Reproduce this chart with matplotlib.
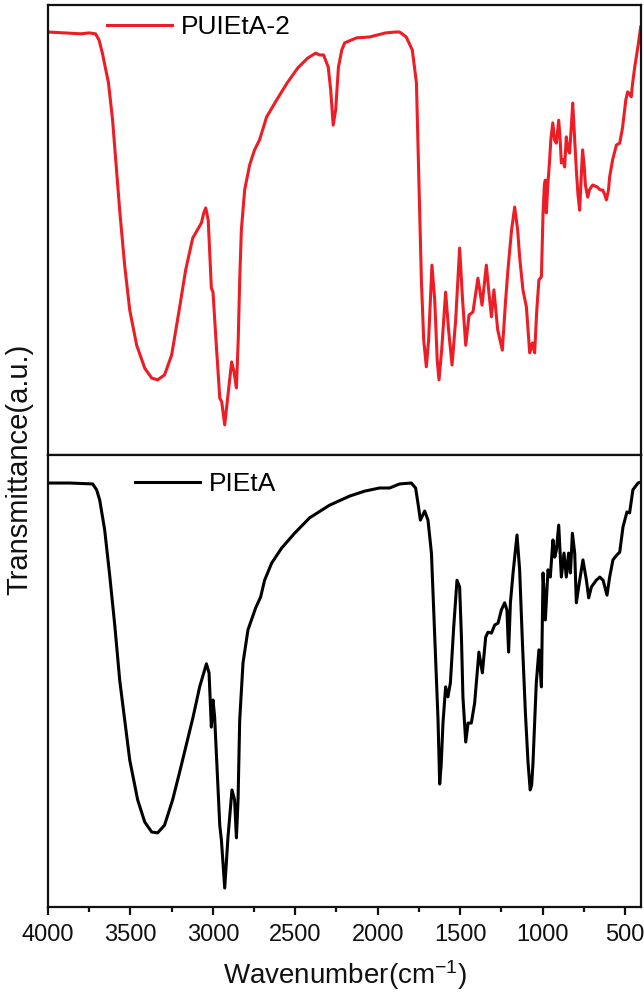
import matplotlib
matplotlib.use("Agg")
import matplotlib.pyplot as plt
from matplotlib.ticker import MultipleLocator

plt.rcParams['font.family'] = ['Liberation Sans', 'DejaVu Sans']
plt.rcParams['mathtext.fontset'] = 'custom'
plt.rcParams['mathtext.rm'] = 'Liberation Sans'
plt.rcParams['mathtext.it'] = 'Liberation Sans'

# FTIR spectra (transmittance, arbitrary units) of the two samples
wn_puieta2 = [4000, 3900, 3800, 3750, 3711, 3690, 3670, 3633, 3608, 3589, 3565, 3535,
              3504, 3462, 3413, 3371, 3335, 3293, 3250, 3201, 3165, 3122, 3069, 3055,
              3043, 3028, 3009, 2999, 2981, 2958, 2946, 2928, 2908, 2886, 2871, 2857,
              2846, 2837, 2827, 2807, 2777, 2747, 2717, 2674, 2613, 2549, 2485, 2425,
              2376, 2352, 2328, 2300, 2285, 2270, 2255, 2238, 2218, 2200, 2128, 2049,
              1952, 1891, 1867, 1827, 1790, 1765, 1750, 1735, 1721, 1705, 1691, 1671,
              1654, 1639, 1628, 1612, 1588, 1570, 1549, 1527, 1503, 1485, 1466, 1446,
              1422, 1392, 1367, 1341, 1327, 1310, 1295, 1272, 1244, 1224, 1210, 1188,
              1169, 1151, 1139, 1119, 1098, 1078, 1062, 1048, 1035, 1022, 1007, 997,
              989, 983, 977, 968, 957, 950, 938, 927, 916, 902, 893, 886, 875, 866,
              856, 846, 836, 825, 817, 808, 795, 785, 775, 765, 757, 748, 740, 726,
              716, 696, 670, 650, 635, 622, 613, 600, 593, 575, 552, 532, 515, 495,
              484, 475, 462, 455, 441, 420, 405]
t_puieta2 = [94.0, 93.8, 93.6, 93.8, 93.6, 92.2, 89.3, 82.7, 74.4, 65.6, 54.4, 42.2,
             32.2, 24.4, 19.3, 17.1, 16.7, 17.8, 22.2, 32.9, 41.1, 48.2, 51.6, 53.8,
             54.9, 52.2, 37.1, 36.2, 25.6, 12.7, 11.8, 6.7, 13.3, 20.7, 18.4, 14.9,
             25.6, 38.9, 50.0, 58.9, 64.4, 67.8, 70.0, 75.1, 78.9, 82.7, 86.0, 88.2,
             89.3, 88.9, 88.9, 86.2, 81.1, 73.3, 76.7, 86.2, 90.0, 91.6, 92.7, 92.9,
             93.8, 94.0, 94.0, 92.9, 90.0, 82.7, 61.1, 38.9, 25.6, 19.6, 25.6, 42.2,
             34.4, 21.1, 16.7, 23.3, 36.2, 27.8, 20.0, 30.0, 46.0, 34.4, 24.4, 31.1,
             31.8, 39.3, 33.3, 42.2, 36.7, 30.7, 36.7, 27.8, 23.3, 34.4, 41.1, 50.0,
             55.1, 50.0, 44.0, 36.7, 32.9, 22.7, 24.9, 22.7, 32.2, 38.9, 39.6, 53.8,
             60.0, 61.1, 53.8, 60.0, 65.6, 70.0, 73.8, 70.0, 69.3, 74.4, 70.0, 64.9,
             65.6, 64.0, 70.7, 67.8, 67.1, 73.3, 78.2, 72.2, 63.3, 57.8, 54.4, 62.2,
             67.8, 64.4, 60.0, 57.3, 58.9, 60.0, 59.6, 58.9, 58.9, 57.8, 56.7, 58.9,
             61.8, 65.6, 68.9, 69.3, 72.7, 78.9, 80.7, 80.4, 79.6, 82.2, 86.2, 91.1,
             95.1]

wn_pieta = [4000, 3868, 3729, 3705, 3686, 3656, 3626, 3595, 3565, 3535, 3504, 3456,
            3413, 3371, 3335, 3293, 3244, 3201, 3120, 3080, 3039, 3023, 3015, 3009,
            2999, 2989, 2975, 2958, 2948, 2928, 2908, 2884, 2868, 2857, 2847, 2837,
            2817, 2787, 2766, 2740, 2710, 2686, 2643, 2583, 2504, 2413, 2292, 2171,
            2080, 1989, 1928, 1867, 1796, 1770, 1756, 1741, 1715, 1695, 1674, 1654,
            1634, 1624, 1615, 1604, 1588, 1574, 1559, 1539, 1519, 1503, 1492, 1483,
            1466, 1452, 1432, 1412, 1386, 1365, 1345, 1331, 1310, 1290, 1270, 1250,
            1230, 1216, 1206, 1195, 1179, 1155, 1139, 1122, 1115, 1104, 1088, 1075,
            1066, 1058, 1038, 1022, 1007, 997, 983, 967, 953, 937, 926, 916, 902,
            886, 870, 856, 842, 831, 819, 805, 795, 781, 755, 734, 720, 704, 674,
            653, 633, 609, 593, 573, 549, 532, 512, 488, 472, 452, 421, 405]
t_pieta = [93.8, 93.8, 93.6, 92.3, 90.0, 83.4, 73.5, 62.4, 50.2, 41.4, 32.5, 23.7,
           18.8, 16.6, 16.4, 18.1, 23.7, 29.9, 42.0, 48.7, 53.8, 51.8, 45.1, 39.8,
           45.8, 42.0, 31.0, 18.1, 14.8, 4.2, 15.5, 25.9, 23.7, 15.3, 23.7, 41.4,
           54.0, 61.3, 63.5, 66.2, 68.6, 72.3, 76.1, 79.4, 82.7, 86.1, 88.9, 90.9,
           92.0, 92.7, 92.7, 93.6, 93.8, 92.7, 89.4, 85.6, 87.6, 85.6, 78.3, 59.7,
           41.4, 27.2, 31.4, 40.7, 48.7, 46.5, 49.6, 61.9, 72.3, 70.8, 59.7, 46.5,
           36.5, 40.7, 40.7, 45.1, 56.4, 51.8, 59.7, 60.8, 60.6, 62.4, 62.8, 65.7,
           67.3, 65.7, 56.4, 67.3, 73.9, 82.3, 74.6, 58.4, 52.4, 42.9, 31.9, 25.9,
           27.0, 31.9, 49.6, 56.9, 48.7, 73.9, 63.5, 74.6, 73.0, 81.2, 77.4, 79.0,
           84.5, 73.0, 78.3, 73.0, 78.3, 73.9, 82.7, 78.3, 67.3, 70.8, 76.8, 72.3,
           68.4, 70.8, 72.3, 73.0, 72.3, 69.0, 73.0, 76.8, 77.9, 78.5, 84.1, 87.4,
           87.2, 92.3, 93.8, 94.0]

x_ticks = [4000, 3500, 3000, 2500, 2000, 1500, 1000, 500]
x_limits = (4000, 403)

fig = plt.figure(figsize=(6.44, 10.02), dpi=100)
ax_top = fig.add_axes([0.0745, 0.5459, 0.9208, 0.4491])
ax_bot = fig.add_axes([0.0745, 0.0948, 0.9208, 0.4511])

for ax in (ax_top, ax_bot):
    ax.set_xlim(*x_limits)
    ax.set_ylim(0, 100)
    ax.set_yticks([])
    for s in ax.spines.values():
        s.set_linewidth(1.6)
        s.set_color('#111111')

ax_top.plot(wn_puieta2, t_puieta2, color='#ee1c24', lw=2.2,
            solid_joinstyle='round', label='PUIEtA-2')
ax_bot.plot(wn_pieta, t_pieta, color='#000000', lw=2.2,
            solid_joinstyle='round', label='PIEtA')

ax_top.tick_params(axis='x', which='both', bottom=False, top=False,
                   labelbottom=False)

ax_bot.set_xticks(x_ticks)
ax_bot.set_xticklabels([str(v) for v in x_ticks])
ax_bot.xaxis.set_minor_locator(MultipleLocator(250))
ax_bot.tick_params(axis='x', which='major', direction='out', length=6,
                   width=1.6, pad=6, labelsize=17, colors='#111111')
ax_bot.tick_params(axis='x', which='minor', direction='out', length=3.5,
                   width=1.6, colors='#111111')

leg_kw = dict(frameon=False, fontsize=19, handlelength=2.45,
              handletextpad=0.35, borderpad=0, borderaxespad=0,
              loc='center left')
ax_top.legend(bbox_to_anchor=(0.0995, 0.951), **leg_kw)
ax_bot.legend(bbox_to_anchor=(0.147, 0.936), **leg_kw)

fig.text(345 / 644, 1 - 975 / 1002, r'Wavenumber(cm$^{\mathregular{-1}}$)',
         ha='center', va='center', fontsize=20, color='#111111')
fig.text(19 / 644, 1 - 469 / 1002, 'Transmittance(a.u.)', rotation=90,
         ha='center', va='center', fontsize=21, color='#111111')

fig.savefig('out.png', dpi=100, facecolor='white')
